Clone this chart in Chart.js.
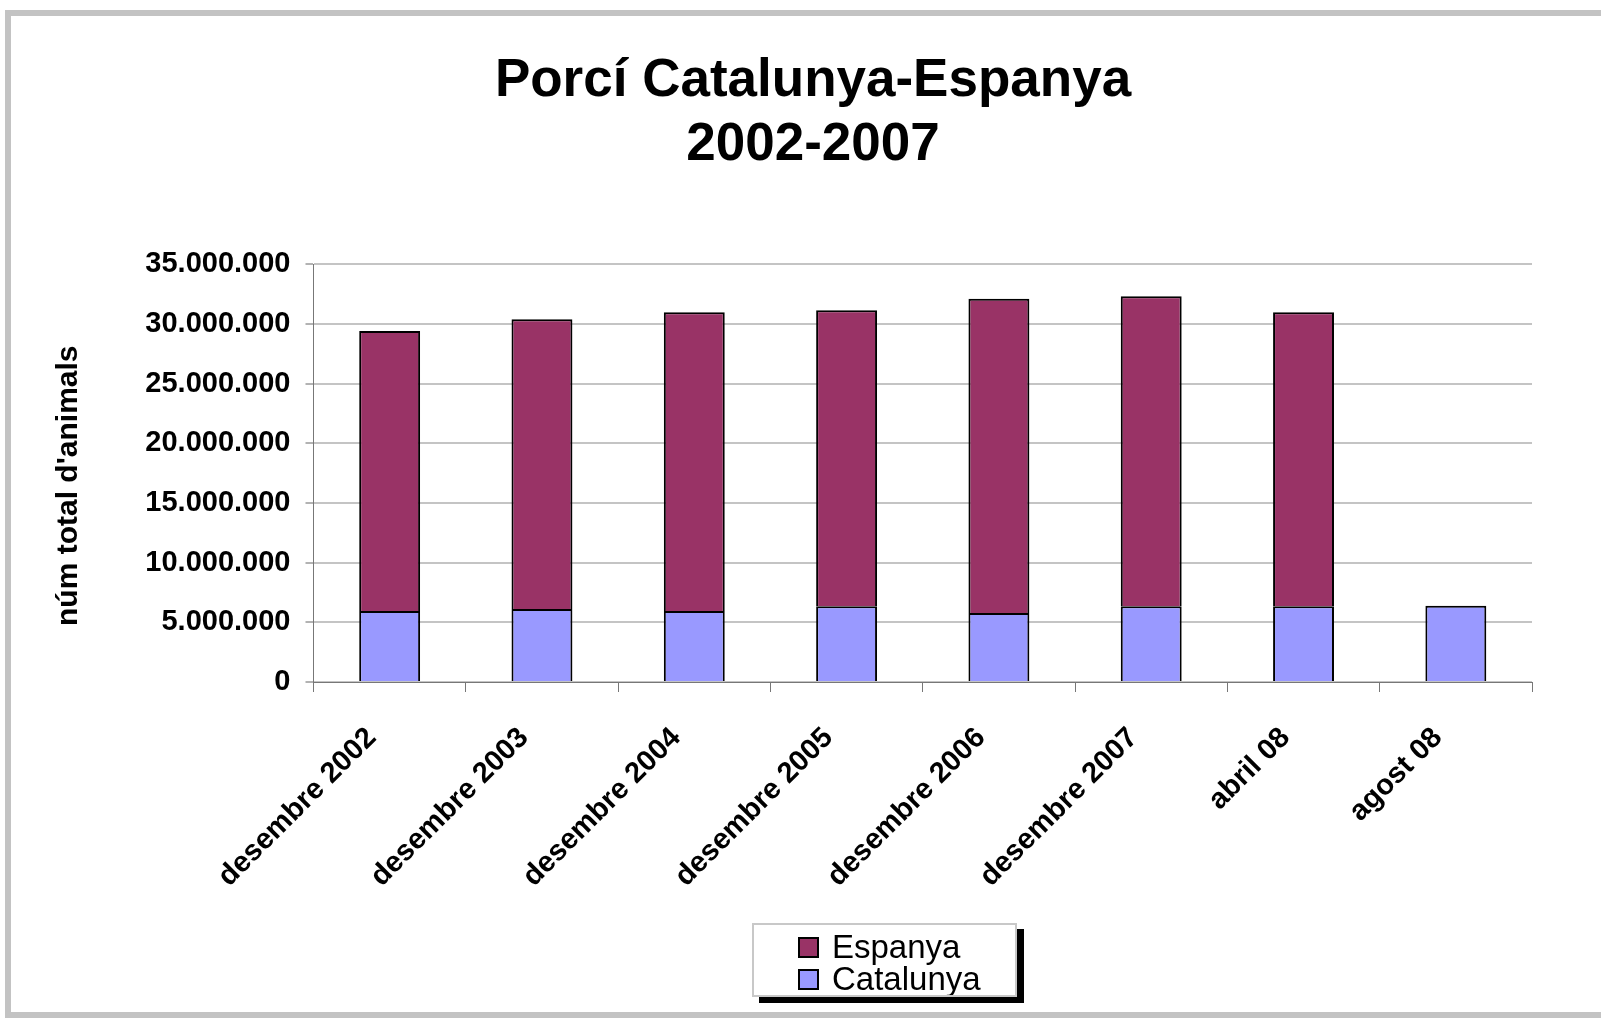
<!DOCTYPE html>
<html>
<head>
<meta charset="utf-8">
<title>Porcí Catalunya-Espanya</title>
<script src="https://cdn.jsdelivr.net/npm/chart.js@4"></script>
<style>
  body { margin: 0; background: #fff; font-family: "Liberation Sans", Arial, sans-serif; overflow: hidden; }
  #frame { position: absolute; left: 5px; top: 10px; width: 1700px; height: 1008px; box-sizing: border-box; border: 6px solid #c3c3c3; }
  #chart { position: absolute; left: 0; top: 0; }
  #legend { position: absolute; left: 752px; top: 923px; width: 265px; height: 74px; box-sizing: border-box;
            border: 2px solid #c8c8c8; background: #fff; box-shadow: 7px 6px 0 #000; padding: 6px 0 0 44px; overflow: hidden; }
  #legend div { height: 32px; line-height: 32px; font-size: 33px; color: #000; white-space: nowrap; }
  #legend span { display: inline-block; width: 17px; height: 17px; border: 2px solid #000; margin-right: 13px; vertical-align: 0; }
</style>
</head>
<body>
<div id="frame"></div>
<canvas id="chart" width="1601" height="1018"></canvas>
<div id="legend"></div>
<script>
const categories = ['desembre 2002', 'desembre 2003', 'desembre 2004', 'desembre 2005',
                    'desembre 2006', 'desembre 2007', 'abril 08', 'agost 08'];
const catalunya = [5950000, 6120000, 5950000, 6340000, 5780000, 6340000, 6340000, 6400000];
const espanya = [23470000, 24280000, 25040000, 24810000, 26350000, 25990000, 24650000, null];
const yTicks = [0, 5000000, 10000000, 15000000, 20000000, 25000000, 30000000, 35000000];

const font = '"Liberation Sans", Arial, sans-serif';
const fmt = v => String(v).replace(/\B(?=(\d{3})+(?!\d))/g, '.');

const datasets = [
  { label: 'Catalunya', data: catalunya, backgroundColor: '#9999ff', borderColor: '#000', borderWidth: 2 },
  { label: 'Espanya', data: espanya, backgroundColor: '#993366', borderColor: '#000', borderWidth: 2 }
];

new Chart(document.getElementById('chart'), {
  type: 'bar',
  data: { labels: categories, datasets: datasets },
  options: {
    responsive: false,
    animation: false,
    devicePixelRatio: 1,
    // left padding keeps the title centred where the original had it
    layout: { padding: { left: 94, right: 69, top: 0, bottom: 0 } },
    datasets: { bar: { barPercentage: 0.4, categoryPercentage: 1 } },
    plugins: {
      legend: { display: false },
      tooltip: { enabled: false },
      title: {
        display: true,
        text: ['Porcí Catalunya-Espanya', '2002-2007'],
        color: '#000',
        font: { family: font, size: 53, weight: 'bold', lineHeight: 1.2 },
        padding: { top: 50, bottom: 87.2 }
      }
    },
    scales: {
      x: {
        stacked: true,
        afterFit: s => { s.height = 336; },
        border: { color: '#777', width: 1 },
        grid: { offset: true, drawOnChartArea: false, tickLength: 10, tickColor: '#777' },
        ticks: {
          autoSkip: false, minRotation: 45, maxRotation: 45, padding: 29, labelOffset: -18,
          color: '#000', font: { family: font, size: 29, weight: 'bold' }
        }
      },
      y: {
        stacked: true,
        min: 0, max: 35000000,
        afterFit: s => { s.width = 219.5; },
        afterBuildTicks: s => { s.ticks = yTicks.map(v => ({ value: v })); },
        border: { color: '#777', width: 1 },
        grid: { color: '#c4c4c4', lineWidth: 2, tickLength: 8, tickColor: '#666', tickWidth: 1 },
        ticks: {
          padding: 15, color: '#000', font: { family: font, size: 29, weight: 'bold' },
          callback: v => fmt(v)
        },
        title: {
          display: true, text: "núm total d'animals   ", color: '#000',
          font: { family: font, size: 30, weight: 'bold' }, padding: { top: -43.5 }
        }
      }
    }
  }
});

// legend box, Espanya listed first as in the original
const legend = document.getElementById('legend');
datasets.slice().reverse().forEach(d => {
  const row = document.createElement('div');
  row.innerHTML = `<span style="background:${d.backgroundColor}"></span>${d.label}`;
  legend.appendChild(row);
});
</script>
</body>
</html>
